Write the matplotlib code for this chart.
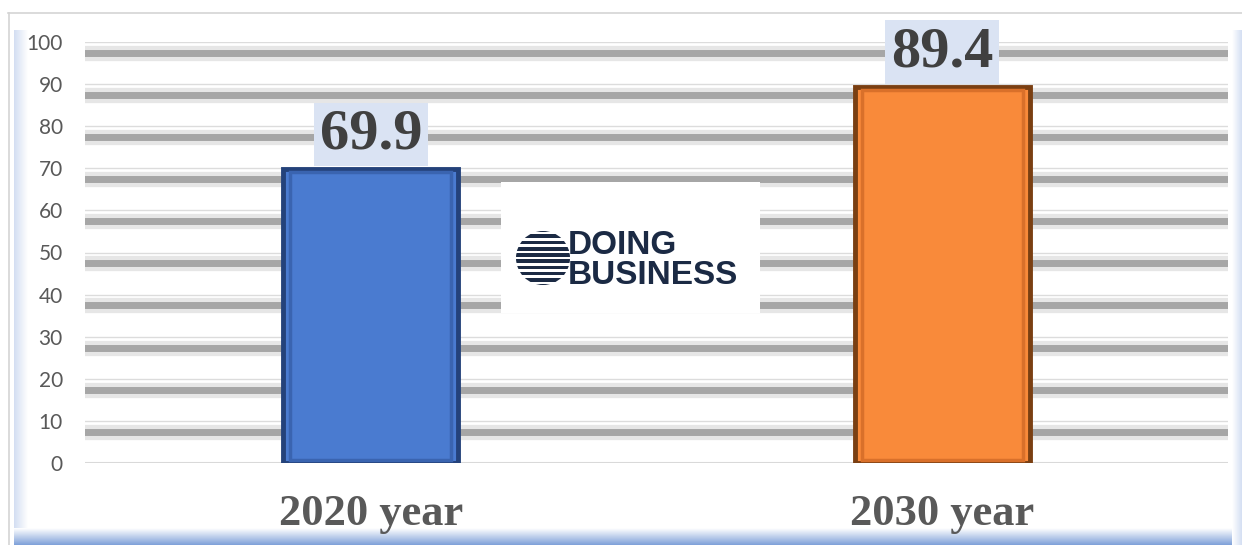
import matplotlib
matplotlib.use("Agg")
import matplotlib.pyplot as plt
import matplotlib.patheffects as pe
import matplotlib.patches as mpatches
import numpy as np

categories = ["2020 year", "2030 year"]
values = [69.9, 89.4]
value_labels = ["69.9", "89.4"]
yticks = [0, 10, 20, 30, 40, 50, 60, 70, 80, 90, 100]
bar_colors = ["#4a7bd0", "#f98a3a"]
edge_colors = ["#24427a", "#7a3f12"]
inner_colors = ["#3a64b0", "#d9702a"]

W, H = 1242, 545
fig = plt.figure(figsize=(W / 100, H / 100), dpi=100)
fig.patch.set_facecolor("white")

# frame decorations (figure-level)
bg = fig.add_axes([0, 0, 1, 1], zorder=-5)
bg.set_xlim(0, W); bg.set_ylim(H, 0); bg.axis("off")
bg.plot([8, W], [13, 13], color="#d4d4d4", lw=1.2)
bg.plot([8.5, 8.5], [13, H], color="#d4d4d4", lw=1.2)
# left blue gradient strip
gl = np.linspace(1, 0, 40).reshape(1, -1)
bg.imshow(gl, extent=(14, 28, H, 30), cmap=matplotlib.colors.LinearSegmentedColormap.from_list(
    "l", ["#ffffff", "#d3def2"]), aspect="auto", zorder=0)
# bottom blue gradient strip
gb = np.linspace(0, 1, 40).reshape(-1, 1)
bg.imshow(gb, extent=(14, W, H, 528), cmap=matplotlib.colors.LinearSegmentedColormap.from_list(
    "b", ["#ffffff", "#7fa1d9"]), aspect="auto", zorder=0)
# right blue gradient strip
gr = np.linspace(0, 1, 20).reshape(1, -1)
bg.imshow(gr, extent=(1232, W, H, 30), cmap=matplotlib.colors.LinearSegmentedColormap.from_list(
    "r", ["#ffffff", "#d5e0f3"]), aspect="auto", zorder=0)

ax = fig.add_axes([85 / W, 1 - 463 / H, (1228 - 85) / W, (463 - 42) / H])
ax.set_facecolor("none")
ax.set_xlim(-0.5, 1.5)
ax.set_ylim(0, 100)

# gridlines with shadow
for yv in yticks[1:]:
    ax.axhline(yv, color="#dcdcdc", lw=1.0, zorder=1,
               path_effects=[pe.SimpleLineShadow(offset=(0, -7.8), shadow_color="#e6e6e6", alpha=1, linewidth=11),
                             pe.SimpleLineShadow(offset=(0, -7.8), shadow_color="#a6a6a6", alpha=1, linewidth=5.0),
                             pe.Normal()])
ax.axhline(0, color="#d9d9d9", lw=1.5, zorder=1)

x = np.arange(len(categories))
bw = 0.306
ax.bar(x, values, width=bw, color=bar_colors, edgecolor=edge_colors, linewidth=3.5, zorder=3)
ax.bar(x, np.array(values) - 1.6, bottom=0.8, width=bw - 0.024, color="none",
       edgecolor=inner_colors, linewidth=2.5, zorder=3.5)
ax.bar(x, np.array(values) - 3.2, bottom=1.6, width=bw - 0.04, color=bar_colors,
       edgecolor="none", zorder=4)

for xi, v, lab in zip(x, values, value_labels):
    ax.annotate(lab, (xi, v), xytext=(0, 6), textcoords="offset points",
                ha="center", va="bottom", fontsize=42, fontweight="bold",
                family="Liberation Serif", color="#404040", zorder=6,
                bbox=dict(boxstyle="square,pad=0.1", fc="#dae3f3", ec="none"))

for s in ax.spines.values():
    s.set_visible(False)
ax.set_yticks(yticks)
ax.set_yticklabels([str(t) for t in yticks], fontsize=15, color="#595959", family="Lato")
ax.tick_params(axis="y", length=0, pad=16)
ax.set_xticks(x)
ax.set_xticklabels(categories, fontsize=32, fontweight="bold", family="Liberation Serif", color="#595959")
ax.tick_params(axis="x", length=0, pad=22)

# logo overlay (white box with "DOING BUSINESS")
lg = fig.add_axes([0, 0, 1, 1], zorder=5)
lg.set_xlim(0, W); lg.set_ylim(H, 0); lg.axis("off")
lg.add_patch(mpatches.Rectangle((501, 182), 259, 131, fc="white", ec="none"))
cx, cy, r = 543, 258, 27
lg.add_patch(mpatches.Circle((cx, cy), r, fc="#1b2a44", ec="none"))
for k in range(-4, 5):
    yy = cy + k * 6.2
    lg.add_patch(mpatches.Rectangle((cx - r - 2, yy - 1.3), 2 * r + 4, 2.6,
                                    fc="white", ec="none"))
lg.text(568, 245, "DOING", fontsize=24, fontweight="bold", family="Liberation Sans",
        color="#1b2a44", va="center", ha="left")
lg.text(568, 276, "BUSINESS", fontsize=24, fontweight="bold", family="Liberation Sans",
        color="#1b2a44", va="center", ha="left")

fig.savefig("out.png", dpi=100, facecolor="white")
